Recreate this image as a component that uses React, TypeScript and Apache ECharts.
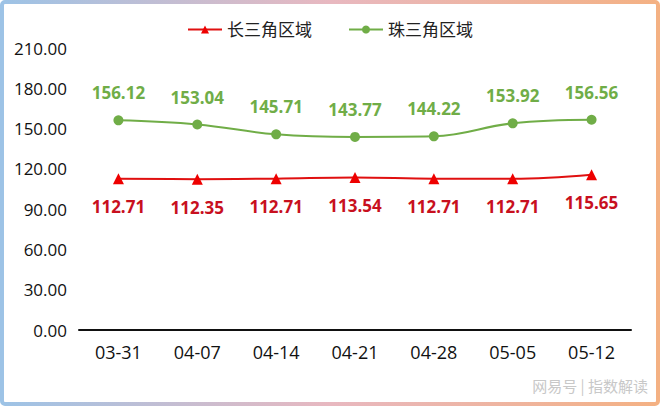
import React, { useEffect, useRef } from "react";
import * as echarts from "echarts";

const categories = ["03-31", "04-07", "04-14", "04-21", "04-28", "05-05", "05-12"];
const yrdValues = [112.71, 112.35, 112.71, 113.54, 112.71, 112.71, 115.65];
const prdValues = [156.12, 153.04, 145.71, 143.77, 144.22, 153.92, 156.56];
const seriesNames = ["长三角区域", "珠三角区域"];
const watermark = "网易号 | 指数解读";

export default function App() {
  const ref = useRef<HTMLDivElement>(null);
  useEffect(() => {
    document.body.style.margin = "0";
    const chart = echarts.init(ref.current!, null, { renderer: "svg" });
    const font = "'Open Sans', 'Noto Sans CJK SC', sans-serif";
    chart.setOption({
      animation: false,
      backgroundColor: "#ffffff",
      textStyle: { fontFamily: font },
      legend: {
        top: 16,
        left: "center",
        itemGap: 36,
        itemWidth: 34,
        itemHeight: 10,
        textStyle: { fontSize: 17, color: "#222", fontFamily: font },
        data: seriesNames,
      },
      grid: { left: 79, right: 29, top: 48, bottom: 76 },
      xAxis: {
        type: "category",
        data: categories,
        boundaryGap: true,
        axisLine: { lineStyle: { color: "#111", width: 2 } },
        axisTick: { show: false },
        axisLabel: { fontSize: 18, color: "#111", margin: 13, fontFamily: font },
      },
      yAxis: {
        type: "value",
        min: 0,
        max: 210,
        interval: 30,
        splitLine: { show: false },
        axisLine: { show: false },
        axisTick: { show: false },
        axisLabel: {
          fontSize: 17,
          color: "#111",
          margin: 12,
          fontFamily: font,
          formatter: (v: number) => v.toFixed(2),
        },
      },
      series: [
        {
          name: seriesNames[0],
          type: "line",
          smooth: 0.4,
          data: yrdValues,
          symbol: "triangle",
          symbolSize: 11,
          itemStyle: { color: "#EE0000" },
          lineStyle: { color: "#E01010", width: 2 },
          label: {
            show: true,
            position: "bottom",
            distance: 14,
            fontSize: 17,
            fontWeight: "bold",
            color: "#C8101E",
            fontFamily: font,
            formatter: (p: any) => p.value.toFixed(2),
          },
        },
        {
          name: seriesNames[1],
          type: "line",
          smooth: 0.4,
          data: prdValues,
          symbol: "circle",
          symbolSize: 10,
          itemStyle: { color: "#70AD47" },
          lineStyle: { color: "#70AD47", width: 2 },
          label: {
            show: true,
            position: "top",
            distance: 14,
            fontSize: 17,
            fontWeight: "bold",
            color: "#70AD47",
            fontFamily: font,
            formatter: (p: any) => p.value.toFixed(2),
          },
        },
      ],
      graphic: [
        {
          type: "rect",
          shape: { x: 2, y: 2, width: 656, height: 402, r: 3 },
          silent: true,
          z: 100,
          style: {
            fill: "none",
            lineWidth: 4,
            stroke: new echarts.graphic.LinearGradient(0, 0, 1, 0, [
              { offset: 0, color: "#9DC3E6" },
              { offset: 0.5, color: "#E8B8C0" },
              { offset: 1, color: "#F4B183" },
            ]),
          },
        },
        {
          type: "text",
          right: 12,
          top: 378,
          style: {
            text: watermark,
            fontSize: 15,
            fill: "#c8c8c8",
            fontFamily: "'Noto Sans CJK SC', sans-serif",
          },
        },
      ],
    });
    return () => chart.dispose();
  }, []);
  return <div ref={ref} style={{ width: 660, height: 406 }} />;
}
